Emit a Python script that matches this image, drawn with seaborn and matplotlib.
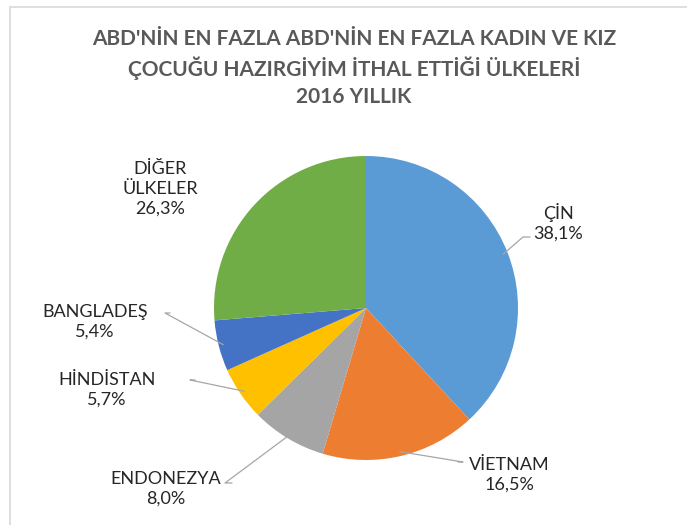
import numpy as np
import matplotlib
matplotlib.use("Agg")
import matplotlib.pyplot as plt
import seaborn as sns

sns.set_theme(style="white")
plt.rcParams['font.family'] = ['Lato', 'DejaVu Sans']

countries = ["ÇİN", "VİETNAM", "ENDONEZYA", "HİNDİSTAN", "BANGLADEŞ", "DİĞER\nÜLKELER"]
shares = [38.1, 16.5, 8.0, 5.7, 5.4, 26.3]
share_labels = ["38,1%", "16,5%", "8,0%", "5,7%", "5,4%", "26,3%"]
colors = ["#5B9BD5", "#ED7D31", "#A5A5A5", "#FFC000", "#4472C4", "#70AD47"]
title = "ABD'NİN EN FAZLA ABD'NİN EN FAZLA KADIN VE KIZ\nÇOCUĞU HAZIRGİYİM İTHAL ETTİĞİ ÜLKELERİ\n2016 YILLIK"

W, H = 687, 525
fig = plt.figure(figsize=(W / 100, H / 100), dpi=100)
fig.patch.set_facecolor("white")

# chart border (top and left visible)
fig.add_artist(plt.Line2D([10 / W, 1.0], [1 - 7 / H, 1 - 7 / H], color="#D9D9D9", lw=1.2))
fig.add_artist(plt.Line2D([10 / W, 10 / W], [0, 1 - 7 / H], color="#D9D9D9", lw=1.2))

cx, cy, r = 366, 308, 152
ax = fig.add_axes([(cx - r) / W, (H - cy - r) / H, 2 * r / W, 2 * r / H])
wedges, _ = ax.pie(shares, colors=colors, startangle=90, counterclock=False,
                   radius=1.0, wedgeprops=dict(linewidth=0))
ax.set_xlim(-1, 1)
ax.set_ylim(-1, 1)
ax.set_aspect("equal")
ax.axis("off")

fig.text(354 / W, 1 - 68 / H, title, ha="center", va="center", fontsize=15,
         fontweight="bold", color="#595959", linespacing=1.42)

def px(x, y):
    return ((x - cx) / r, (cy - y) / r)

# label positions (pixel coordinates of text centre) and leader elbow points
label_pos = [(558, 222), (509, 475), (166, 489), (107, 390), (95, 322), (160, 189)]
elbows = [(530, 237), (458, 462), (232, 483), (195, 380), (170, 313), None]
elbow_ends = [(523, 237), (463, 462), (225, 483), (190, 380), (165, 313), None]

for i, w in enumerate(wedges):
    theta = np.deg2rad((w.theta1 + w.theta2) / 2)
    tx, ty = px(*label_pos[i])
    ax.text(tx, ty, f"{countries[i]}\n{share_labels[i]}", ha="center", va="center",
            fontsize=13, color="#262626", linespacing=1.3, clip_on=False)
    if elbows[i] is not None:
        ex, ey = px(*elbows[i])
        hx, hy = px(*elbow_ends[i])
        sx, sy = 0.97 * np.cos(theta), 0.97 * np.sin(theta)
        ax.plot([sx, hx, ex], [sy, hy, ey], color="#A6A6A6", lw=0.9, clip_on=False)

fig.savefig("out.png", dpi=100, facecolor="white")
